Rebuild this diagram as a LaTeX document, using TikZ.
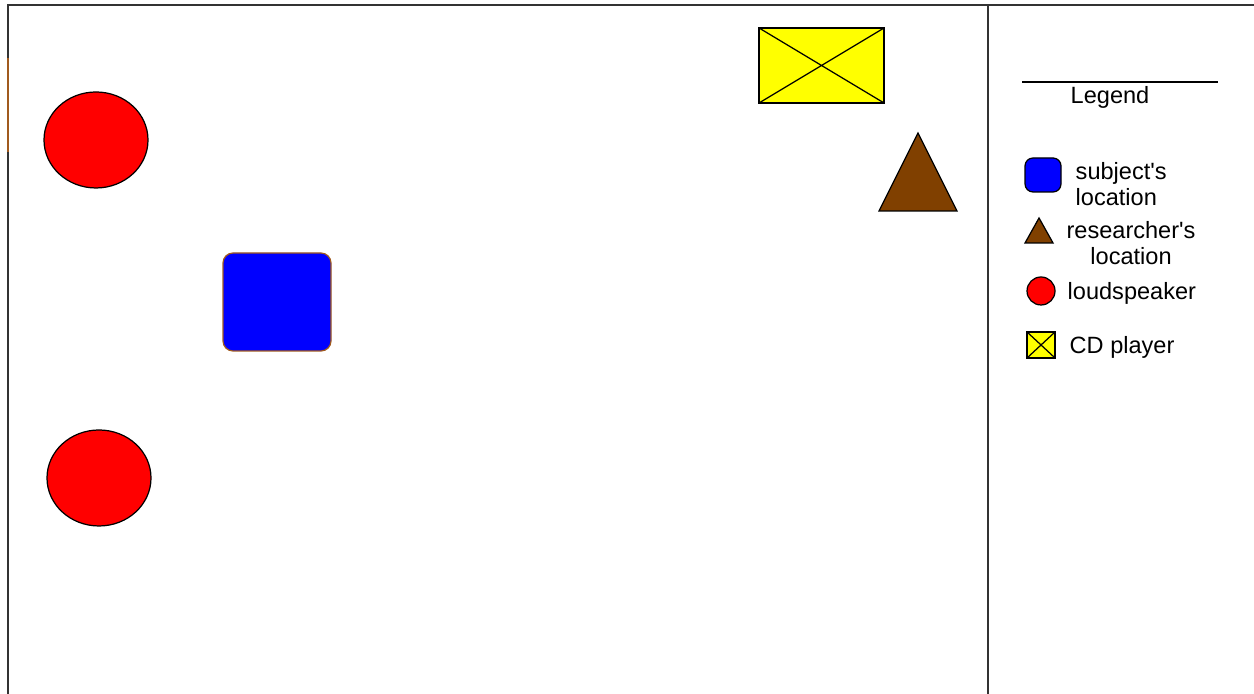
\documentclass[tikz,border=0pt]{standalone}
\usepackage{fontspec}
\setmainfont{Liberation Sans}
\usetikzlibrary{calc,positioning}
\definecolor{speakerred}{RGB}{255,0,0}
\definecolor{subjectblue}{RGB}{0,0,255}
\definecolor{researcherbrown}{RGB}{128,64,0}
\definecolor{playeryellow}{RGB}{255,255,0}
\definecolor{edgeorange}{RGB}{160,90,30}

\begin{document}
\begin{tikzpicture}[
    outline/.style={draw=black,line width=0.35pt},
    frameline/.style={line width=0.6pt,draw=black!80},
    legendtext/.style={inner sep=0pt,font=\fontsize{6.7}{7.4}\selectfont,align=center}]
        \useasboundingbox (0,0) rectangle (12.54,6.94);
        % room and legend frame
        \draw[frameline] (12.54,6.89) -- (0.08,6.89) -- (0.08,0);
        \draw[line width=0.6pt,edgeorange] (0.08,6.36) -- (0.08,5.42);
        \draw[frameline] (9.88,6.89) -- (9.88,0);
        % loudspeakers
        \fill[speakerred,outline] (0.96,5.54) ellipse [x radius=0.52,y radius=0.48];
        \fill[speakerred,outline] (0.99,2.16) ellipse [x radius=0.52,y radius=0.48];
        % subject
        \fill[subjectblue,draw=edgeorange,line width=0.35pt,rounded corners=0.1cm] (2.23,3.43) rectangle (3.31,4.41);
        % CD player
        \fill[playeryellow,outline] (7.59,5.91) rectangle (8.84,6.66);
        \draw[outline] (7.59,5.91) -- (8.84,6.66) (7.59,6.66) -- (8.84,5.91);
        % researcher
        \fill[researcherbrown,outline] (9.18,5.61) -- (8.79,4.83) -- (9.57,4.83) -- cycle;
        % legend
        \draw[line width=0.4pt] (10.22,6.12) -- (12.18,6.12);
        \node[legendtext] (legend) at (11.10,5.97) {Legend};
        \fill[subjectblue,outline,rounded corners=0.08cm] (10.25,5.02) rectangle (10.61,5.36);
        \node[legendtext,align=left,anchor=west] (subject) at (10.75,5.10) {subject\textquotesingle s\\location};
        \fill[researcherbrown,outline] (10.39,4.76) -- (10.25,4.51) -- (10.53,4.51) -- cycle;
        \node[legendtext] (researcher) at (11.31,4.51) {researcher\textquotesingle s\\location};
        \fill[speakerred,outline] (10.41,4.03) circle (0.14);
        \node[legendtext,anchor=west] (speaker) at (10.67,4.01) {loudspeaker};
        \fill[playeryellow,outline] (10.27,3.36) rectangle (10.55,3.62);
        \draw[outline] (10.27,3.36) -- (10.55,3.62) (10.27,3.62) -- (10.55,3.36);
        \node[legendtext,anchor=west] (player) at (10.69,3.47) {CD player};
      \end{tikzpicture}
\end{document}
